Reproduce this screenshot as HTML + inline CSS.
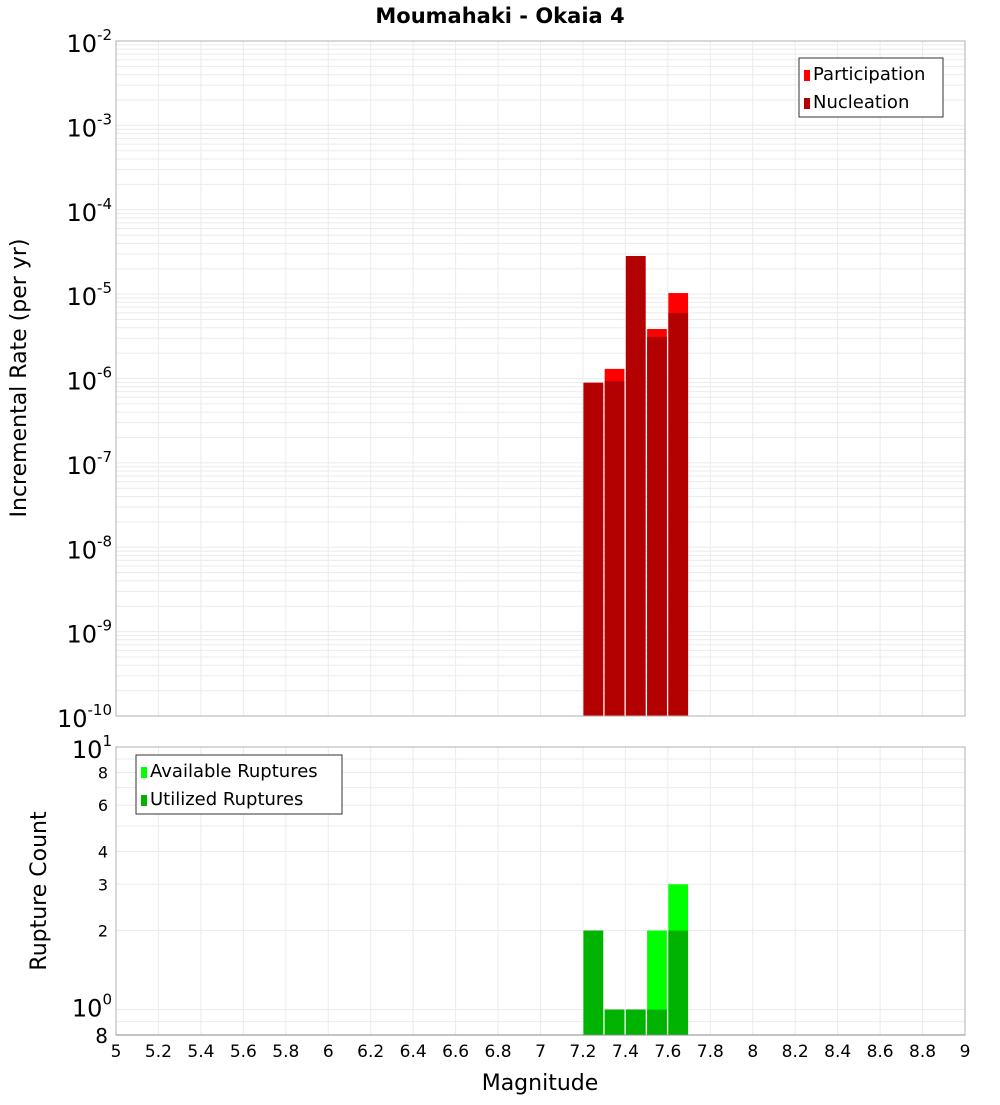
<!DOCTYPE html>
<html><head><meta charset="utf-8"><style>
body{margin:0;background:#fff;width:1000px;height:1100px;overflow:hidden}
svg{font-family:"DejaVu Sans","Liberation Sans",sans-serif}
</style></head><body>
<svg id="c" width="1000" height="1100"></svg>
<script>
const mags=[7.25,7.35,7.45,7.55,7.65];
const participation=[8.9e-7,1.3e-6,2.83e-5,3.86e-6,1.03e-5];
const nucleation=[8.9e-7,9.3e-7,2.83e-5,3.1e-6,5.97e-6];
const available=[2,1,1,2,3];
const utilized=[2,1,1,1,2];
const xTicks=[5,5.2,5.4,5.6,5.8,6,6.2,6.4,6.6,6.8,7,7.2,7.4,7.6,7.8,8,8.2,8.4,8.6,8.8,9];
const topExps=[-2,-3,-4,-5,-6,-7,-8,-9,-10];
const botTicks=[8,6,4,3,2];

const svg=document.getElementById('c');
const NS='http://www.w3.org/2000/svg';
function el(t,a,p){const e=document.createElementNS(NS,t);for(const k in a)e.setAttribute(k,a[k]);(p||svg).appendChild(e);return e;}
const X0=116,X1=965;
const xs=m=>X0+(m-5)/4*(X1-X0);
const T0=41,T1=716;
const yTop=v=>T0+(-2-Math.log10(v))*(T1-T0)/8;
const B0=747,B1=1035;
const yBot=v=>B0+(1-Math.log10(v))*(B1-B0)/(1-Math.log10(0.8));

// title
let t=el('text',{x:500,y:23,'text-anchor':'middle','font-size':21,'font-weight':'bold'});t.textContent='Moumahaki - Okaia 4';


// top grid
let g=el('g',{});
for(let e=-10;e<-2;e++)for(let k=1;k<10;k++){const y=yTop(k*Math.pow(10,e));el('line',{x1:X0,x2:X1,y1:y,y2:y,stroke:'#ebebeb'},g);}
xTicks.forEach(m=>el('line',{x1:xs(m),x2:xs(m),y1:T0,y2:T1,stroke:'#ebebeb'},g));
// bottom grid
let g2=el('g',{});
[0.8,0.9,1,2,3,4,5,6,7,8,9,10].forEach(v=>{const y=yBot(v);el('line',{x1:X0,x2:X1,y1:y,y2:y,stroke:'#ebebeb'},g2);});
xTicks.forEach(m=>el('line',{x1:xs(m),x2:xs(m),y1:B0,y2:B1,stroke:'#ebebeb'},g2));

// top bars
mags.forEach((m,i)=>{
  const x=xs(m-0.05)+0.5,w=xs(m+0.05)-xs(m-0.05)-1.5;
  let r=el('rect',{x:x,y:yTop(participation[i]),width:w,height:T1-yTop(participation[i]),fill:'#ff0000'});
  
  r=el('rect',{x:x,y:yTop(nucleation[i]),width:w,height:T1-yTop(nucleation[i]),fill:'#b30000'});
  
});
mags.forEach((m,i)=>{
  const x=xs(m-0.05)+0.5,w=xs(m+0.05)-xs(m-0.05)-1.5;
  let r=el('rect',{x:x,y:yBot(available[i]),width:w,height:B1-yBot(available[i]),fill:'#00ff00'});
  
  r=el('rect',{x:x,y:yBot(utilized[i]),width:w,height:B1-yBot(utilized[i]),fill:'#00b300'});
  
});

// frames
el('rect',{x:X0,y:T0,width:X1-X0,height:T1-T0,fill:'none',stroke:'#b0b0b0'});
el('rect',{x:X0,y:B0,width:X1-X0,height:B1-B0,fill:'none',stroke:'#b0b0b0'});
el('line',{x1:X0,x2:X1,y1:B1,y2:B1,stroke:'#888'});

// top y labels
topExps.forEach(e=>{
  const y=yTop(Math.pow(10,e));
  let tx=el('text',{x:112,y:y+11,'text-anchor':'end','font-size':24});
  tx.innerHTML='10<tspan dy="-12" font-size="15">'+e+'</tspan>';
  
});
// bottom y labels
let a=el('text',{x:112,y:yBot(10)+11,'text-anchor':'end','font-size':24});a.innerHTML='10<tspan dy="-12" font-size="15">1</tspan>';

a=el('text',{x:112,y:yBot(1)+7,'text-anchor':'end','font-size':24});a.innerHTML='10<tspan dy="-12" font-size="15">0</tspan>';

botTicks.forEach(v=>{let tx=el('text',{x:108,y:yBot(v)+6,'text-anchor':'end','font-size':16});tx.textContent=v;
});
a=el('text',{x:108,y:yBot(0.8)+8,'text-anchor':'end','font-size':20});a.textContent='8';


// x labels
xTicks.forEach(m=>{let tx=el('text',{x:xs(m),y:1057,'text-anchor':'middle','font-size':17});tx.textContent=String(m);
});
a=el('text',{x:540,y:1090,'text-anchor':'middle','font-size':22});a.textContent='Magnitude';

a=el('text',{x:26,y:378,'text-anchor':'middle','font-size':22,transform:'rotate(-90 26 378)'});a.textContent='Incremental Rate (per yr)';

a=el('text',{x:46,y:891,'text-anchor':'middle','font-size':22,transform:'rotate(-90 46 891)'});a.textContent='Rupture Count';


// legends
function legend(x,y,w,items,name){
  const lg=el('g',{});
  el('rect',{x:x,y:y,width:w,height:59,fill:'#fff',stroke:'#333'},lg);
  items.forEach((it,i)=>{
    el('rect',{x:x+5,y:y+12+i*28,width:6,height:11,fill:it[1]},lg);
    const tx=el('text',{x:x+14,y:y+22+i*28,'font-size':18},lg);tx.textContent=it[0];
  });
}
legend(799,58,144,[['Participation','#ff0000'],['Nucleation','#b30000']],'legend-top');
legend(136,755,206,[['Available Ruptures','#00ff00'],['Utilized Ruptures','#00b300']],'legend-bottom');
</script>
</body></html>
